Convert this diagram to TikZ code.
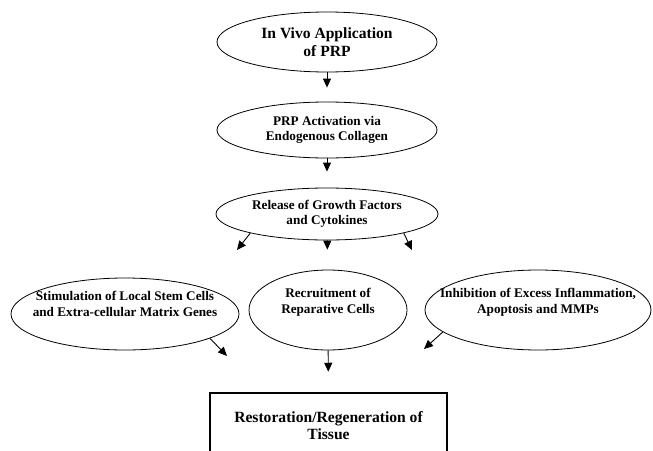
\documentclass[tikz,border=0pt]{standalone}
\usepackage{fontspec}
\setmainfont{Liberation Serif}
\usetikzlibrary{arrows.meta,shapes.geometric}

\begin{document}
\begin{tikzpicture}[x=1pt,y=-1pt,
  bubble/.style={ellipse,draw,line width=0.8pt,inner xsep=-20pt,inner ysep=0pt,align=center,font=\bfseries\fontsize{13.2}{15.5}\selectfont},
  arr/.style={-{Triangle[length=9pt,width=8pt]},line width=0.9pt}]
\useasboundingbox (0,0) rectangle (653,450);
\clip (0,0) rectangle (653,450);
\node[bubble,minimum width=220pt,minimum height=60pt,font=\bfseries\fontsize{15.6}{18}\selectfont] (app) at (327,42) {In Vivo Application\\of PRP};
\node[bubble,minimum width=220pt,minimum height=56pt] (act) at (327,130) {PRP Activation via\\Endogenous Collagen};
\node[bubble,minimum width=222pt,minimum height=52pt] (rel) at (327,214) {Release of Growth Factors\\and Cytokines};
\node[bubble,minimum width=228pt,minimum height=72pt] (stim) at (125,314) {Stimulation of Local Stem Cells\\and Extra-cellular Matrix Genes\\[5pt]};
\node[bubble,minimum width=158pt,minimum height=80pt] (rec) at (328,310) {Recruitment of\\Reparative Cells\\[3pt]};
\node[bubble,minimum width=226pt,minimum height=80pt] (inh) at (538,310) {Inhibition of Excess Inflammation,\\Apoptosis and MMPs\\[3pt]};
\node[draw,line width=2.5pt,minimum width=237pt,minimum height=66pt,align=center,font=\bfseries\fontsize{15.6}{17}\selectfont] (tis) at (328.5,426) {Restoration/Regeneration of\\Tissue};
\coordinate (rl) at (237,250);
\coordinate (rr) at (412,250);
\coordinate (sl) at (227,356);
\coordinate (ir) at (424,349);
\draw[arr,shorten >=14pt] (app) -- (act);
\draw[arr,shorten >=16pt] (act) -- (rel);
\draw[arr] (rel.194) -- (rl);
\draw[arr,shorten >=20pt] (rel) -- (rec);
\draw[arr] (rel.-14) -- (rr);
\draw[arr] (stim.-16) -- (sl);
\draw[arr,shorten >=20pt] (rec) -- (tis);
\draw[arr] (inh.193) -- (ir);
\end{tikzpicture}
\end{document}
